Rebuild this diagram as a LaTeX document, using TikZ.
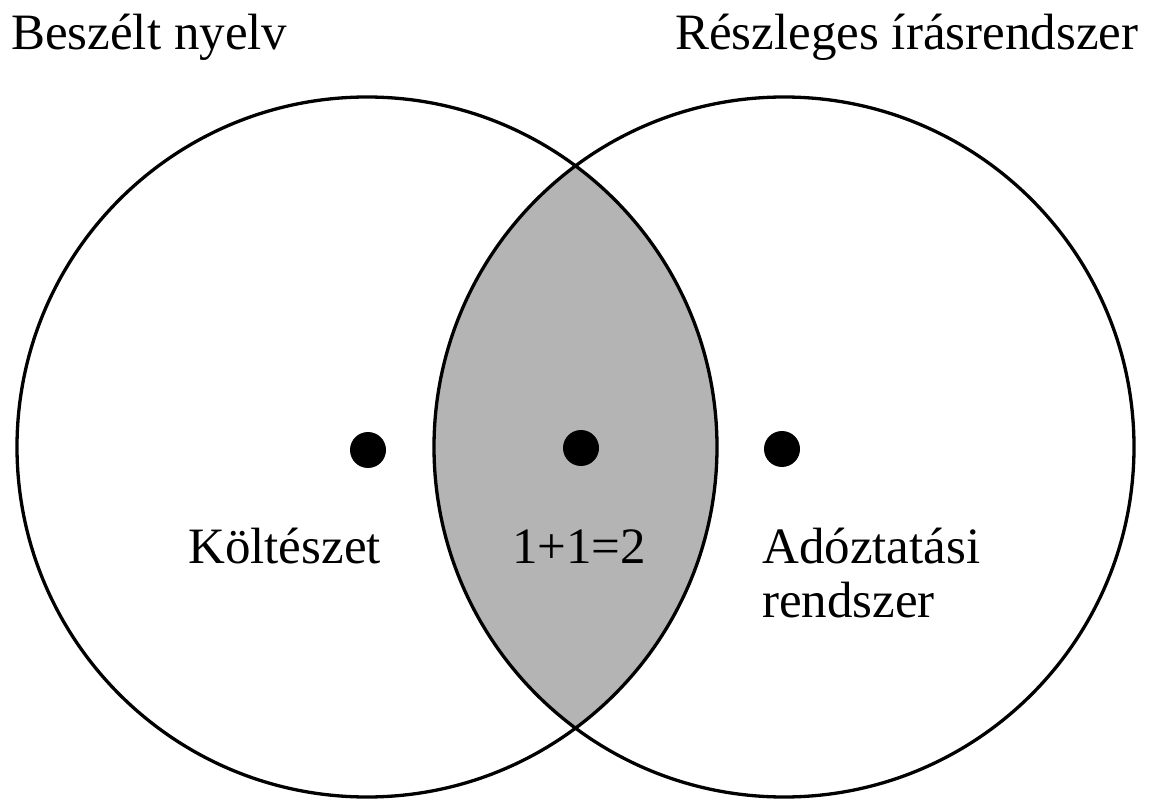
\documentclass[tikz,border=0pt]{standalone}
\usepackage{fontspec}
\setmainfont{Liberation Serif}
\begin{document}
\begin{tikzpicture}[x=1pt,y=-1pt,
  ring/.style={circle, draw=black, line width=3.3pt, minimum size=700pt, inner sep=0pt},
  spot/.style={circle, fill=black, minimum size=36pt, inner sep=0pt},
  lbl/.style={font=\fontsize{51}{54}\selectfont, inner sep=0pt, anchor=base west}]
\useasboundingbox (0,0) rectangle (1162,799);
\definecolor{lensgray}{RGB}{180,180,180}
\begin{scope}
  \clip (367,447) circle (350);
  \fill[lensgray] (784,447) circle (350);
\end{scope}
\node[ring] (L) at (367,447) {};
\node[ring] (R) at (784,447) {};
\node[spot] (d1) at (368,450) {};
\node[spot] (d2) at (581,448) {};
\node[spot] (d3) at (782,449) {};
\node[lbl] (t1) at (11,50) {Beszélt nyelv};
\node[lbl] (t2) at (675,50) {Részleges írásrendszer};
\node[lbl] (k) at (188,563) {Költészet};
\node[lbl] (m) at (512,563) {1+1=2};
\node[lbl] (a1) at (762,563) {Adóztatási};
\node[lbl] (a2) at (762,617) {rendszer};
\end{tikzpicture}
\end{document}
